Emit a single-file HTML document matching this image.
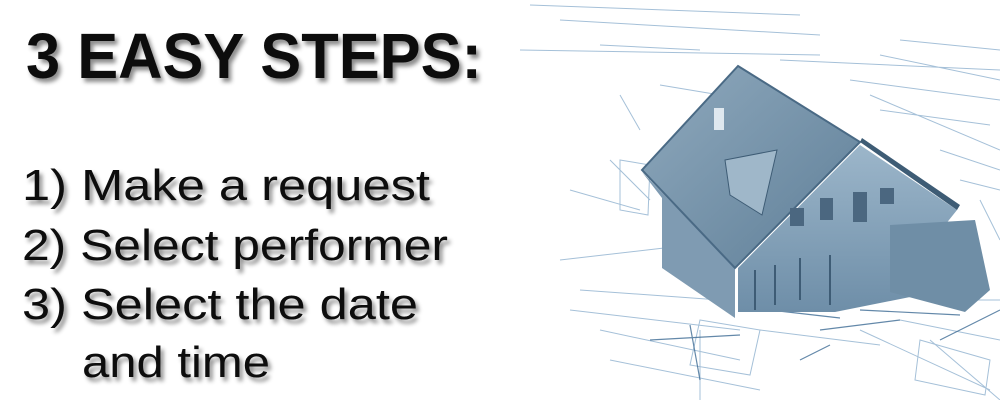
<!DOCTYPE html>
<html><head><style>
html,body{margin:0;padding:0;background:#fff;width:1000px;height:400px;overflow:hidden}
</style></head><body>
<svg width="1000" height="400" viewBox="0 0 1000 400" xmlns="http://www.w3.org/2000/svg">
<defs>
<filter id="sh" x="-5%" y="-20%" width="115%" height="150%"><feDropShadow dx="3" dy="4" stdDeviation="2" flood-color="#000" flood-opacity="0.45"/></filter>
<linearGradient id="roof" x1="0" y1="0" x2="1" y2="1"><stop offset="0" stop-color="#8fa9bd"/><stop offset="1" stop-color="#5f7f98"/></linearGradient>
<linearGradient id="wall" x1="0" y1="0" x2="0" y2="1"><stop offset="0" stop-color="#9cb6ca"/><stop offset="1" stop-color="#6e8ea8"/></linearGradient>
</defs>
<g stroke="#7fa6c8" stroke-width="1" fill="none" opacity="0.7">
<path d="M530 5 L800 15 M560 20 L820 35 M600 45 L700 50 M520 50 L820 55 M780 60 L1000 70 M880 55 L1000 80 M900 40 L1000 50"/>
<path d="M620 95 L640 130 M660 85 L720 95 M610 160 L650 200 M570 190 L640 210 M560 260 L690 245 M580 290 L720 300 M570 310 L740 330 M600 330 L740 360 M610 360 L760 390 M700 330 L700 400 M760 330 L880 345"/>
<path d="M850 80 L1000 100 M870 95 L1000 150 M880 110 L990 125 M940 150 L1000 170 M960 180 L1000 190 M980 200 L1000 240 M900 320 L1000 340 M860 330 L990 390 M960 300 L1000 300 M930 340 L1000 400"/>
<path d="M620 160 L650 165 L648 215 L620 210 Z M700 320 L760 330 L750 375 L690 365 Z M920 340 L990 360 L985 395 L915 380 Z"/>
</g>
<g stroke="#3c6a93" stroke-width="1.2" fill="none" opacity="0.8">
<path d="M650 340 L740 335 M770 310 L840 318 M690 325 L700 380 M800 360 L830 345 M860 310 L960 315 M940 340 L1000 310 M820 330 L900 320"/>
</g>
<polygon points="642,172 735,268 735,318 662,268 662,198" fill="#7f9bb2"/>
<polygon points="860,145 957,210 945,225 945,290 835,312 738,312 738,268" fill="url(#wall)"/>
<polygon points="890,225 975,220 990,290 965,312 890,292" fill="#6f8ea6"/>
<polygon points="738,66 860,142 735,268 642,170" fill="url(#roof)" stroke="#4a6a85" stroke-width="2"/>
<polygon points="860,142 862,138 960,205 957,210" fill="#3e5c75"/>
<polygon points="725,160 777,150 762,215 730,195" fill="#9fb7c9" stroke="#3e5c75"/>
<rect x="714" y="108" width="10" height="22" fill="#dfe8ef"/>
<g fill="#4b6780"><rect x="820" y="198" width="13" height="22"/><rect x="853" y="192" width="14" height="30"/><rect x="880" y="188" width="14" height="16"/><rect x="790" y="208" width="14" height="18"/></g>
<g stroke="#3e5c75" stroke-width="2"><line x1="755" y1="270" x2="755" y2="310"/><line x1="775" y1="265" x2="775" y2="305"/><line x1="800" y1="258" x2="800" y2="300"/><line x1="830" y1="255" x2="830" y2="305"/></g>
<g font-family="'Liberation Sans',sans-serif" fill="#0a0a0a" filter="url(#sh)">
<text x="26" y="78" font-size="64" font-weight="bold" textLength="456" lengthAdjust="spacingAndGlyphs">3 EASY STEPS:</text>
<text x="22" y="200" font-size="44" textLength="408" lengthAdjust="spacingAndGlyphs">1) Make a request</text>
<text x="22" y="260" font-size="44" textLength="426" lengthAdjust="spacingAndGlyphs">2) Select performer</text>
<text x="22" y="319" font-size="44" textLength="396" lengthAdjust="spacingAndGlyphs">3) Select the date</text>
<text x="82" y="377" font-size="44" textLength="188" lengthAdjust="spacingAndGlyphs">and time</text>
</g>
</svg>
</body></html>
